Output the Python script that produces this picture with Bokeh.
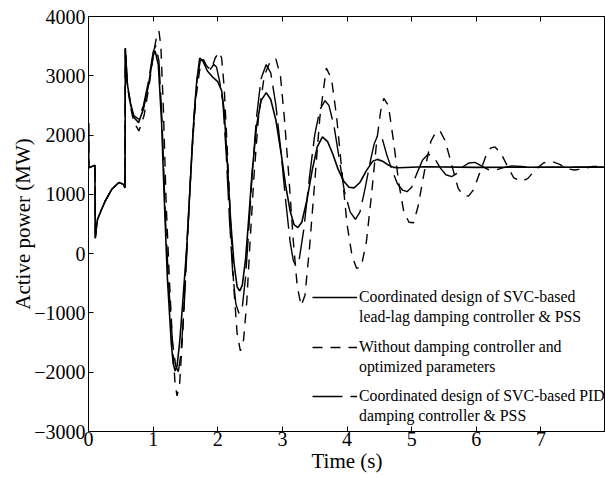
from bokeh.plotting import figure
from bokeh.models import Legend, LegendItem, LinearAxis, FixedTicker, Range1d
from bokeh.embed import file_html
from bokeh.resources import INLINE

# ---- data ----
t_start = [0.0, 0.005, 0.1, 0.105, 0.12, 0.14, 0.2, 0.26, 0.36, 0.47, 0.54, 0.565]
v_start = [2200, 1450, 1490, 260, 420, 580, 740, 890, 1085, 1200, 1170, 1110]

t_leadlag = [0.57, 0.6, 0.65, 0.7, 0.775, 0.85, 0.93, 1.0, 1.03, 1.08, 1.13, 1.17, 1.22, 1.28,
             1.31, 1.34, 1.37, 1.41, 1.46, 1.52, 1.57, 1.62, 1.67, 1.72, 1.77, 1.84, 1.92, 2.0,
             2.06, 2.1, 2.15, 2.2, 2.25, 2.3, 2.34, 2.38, 2.43, 2.48, 2.53, 2.6, 2.67, 2.75,
             2.82, 2.9, 2.98, 3.05, 3.12, 3.18, 3.24, 3.3, 3.38, 3.46, 3.54, 3.62, 3.7, 3.78,
             3.86, 3.95, 4.03, 4.11, 4.2, 4.3, 4.4, 4.47, 4.55, 4.63, 4.72, 4.8, 5.2, 6.0, 8.0]
v_leadlag = [3470, 2870, 2520, 2300, 2210, 2440, 2850, 3340, 3420, 3190, 2240, 1000, -400, -1500,
             -1850, -1980, -1900, -1500, -800, 100, 1100, 2100, 2850, 3300, 3250, 3080, 2980, 2900,
             2750, 2400, 1500, 550, -150, -560, -630, -530, -100, 600, 1350, 2150, 2580, 2715,
             2600, 2250, 1700, 1150, 720, 490, 440, 530, 900, 1400, 1800, 1970, 1890, 1680,
             1430, 1220, 1120, 1110, 1200, 1400, 1560, 1590, 1560, 1500, 1455, 1450, 1465, 1455, 1460]

t_without = [0.57, 0.6, 0.65, 0.7, 0.78, 0.86, 0.94, 1.01, 1.06, 1.09, 1.12, 1.16, 1.2, 1.25,
             1.3, 1.34, 1.37, 1.41, 1.46, 1.51, 1.56, 1.6, 1.66, 1.72, 1.78, 1.84, 1.9, 1.96,
             2.02, 2.06, 2.1, 2.15, 2.2, 2.25, 2.3, 2.35, 2.4, 2.45, 2.5, 2.56, 2.63, 2.72,
             2.82, 2.9, 2.97, 3.03, 3.1, 3.17, 3.23, 3.29, 3.35, 3.42, 3.5, 3.58, 3.68, 3.76,
             3.84, 3.92, 4.0, 4.08, 4.15, 4.22, 4.3, 4.38, 4.46, 4.52, 4.57, 4.64, 4.72, 4.8,
             4.88, 4.96, 5.03, 5.1, 5.2, 5.3, 5.38, 5.44, 5.52, 5.62, 5.72, 5.8, 5.88, 5.96,
             6.05, 6.15, 6.22, 6.29, 6.38, 6.48, 6.58, 6.7, 6.8, 6.92, 7.04, 7.16, 7.3, 7.42,
             7.52, 7.65, 7.8, 8.0]
v_without = [3470, 2850, 2480, 2220, 2070, 2330, 2850, 3400, 3700, 3755, 3500, 2400, 900, -400,
             -1500, -2200, -2400, -2200, -1300, -100, 900, 1700, 2600, 3100, 3250, 3150, 3100, 3300,
             3400, 3300, 2800, 1700, 500, -600, -1350, -1640, -1450, -800, 200, 1300, 2300, 3000,
             3260, 3280, 3000, 2300, 1300, 200, -550, -880, -700, 100, 1200, 2300, 3130, 2950,
             2300, 1400, 500, -50, -250, -220, 200, 1000, 1900, 2400, 2620, 2500, 1900, 1200,
             700, 530, 520, 800, 1400, 1900, 2060, 2070, 1900, 1500, 1100, 980, 970, 1080,
             1350, 1650, 1780, 1800, 1700, 1480, 1280, 1215, 1270, 1420, 1530, 1560, 1500, 1430,
             1410, 1430, 1470, 1470]

t_pid = [0.57, 0.6, 0.65, 0.7, 0.775, 0.85, 0.93, 1.0, 1.04, 1.09, 1.14, 1.19, 1.24, 1.3,
         1.35, 1.39, 1.43, 1.48, 1.53, 1.58, 1.63, 1.68, 1.73, 1.78, 1.84, 1.88, 1.94, 1.98,
         2.03, 2.08, 2.13, 2.18, 2.23, 2.28, 2.33, 2.38, 2.43, 2.48, 2.53, 2.6, 2.67, 2.75,
         2.82, 2.9, 2.98, 3.05, 3.12, 3.17, 3.21, 3.26, 3.33, 3.42, 3.5, 3.58, 3.66, 3.72,
         3.8, 3.88, 3.96, 4.05, 4.13, 4.2, 4.28, 4.36, 4.42, 4.48, 4.55, 4.62, 4.7, 4.78,
         4.86, 4.93, 5.0, 5.08, 5.17, 5.26, 5.35, 5.44, 5.53, 5.62, 5.71, 5.8, 5.89, 5.98,
         6.08, 6.18, 6.3, 6.42, 6.55, 6.7, 6.9, 8.0]
v_pid = [3470, 2880, 2540, 2330, 2270, 2500, 2920, 3400, 3510, 3250, 2200, 600, -500, -1500,
         -1900, -1990, -1700, -900, 200, 1300, 2300, 2950, 3250, 3270, 3130, 3100, 3190, 3150,
         2900, 2550, 1700, 600, -300, -850, -1010, -900, -400, 400, 1300, 2300, 2950, 3190,
         3050, 2500, 1700, 900, 200, -120, -210, -100, 400, 1300, 2000, 2430, 2580, 2500,
         2150, 1600, 1050, 700, 580, 700, 1100, 1550, 1850, 2010, 1920, 1650, 1400, 1180,
         1070, 1045, 1120, 1350, 1580, 1680, 1620, 1450, 1330, 1300, 1360, 1470, 1530, 1540,
         1480, 1420, 1410, 1450, 1480, 1470, 1455, 1460]

x_ticks = [0, 1, 2, 3, 4, 5, 6, 7]
y_ticks = [-3000, -2000, -1000, 0, 1000, 2000, 3000, 4000]

label_leadlag = ["Coordinated design of SVC-based", "lead-lag damping controller & PSS"]
label_without = ["Without damping controller and", "optimized parameters"]
label_pid = ["Coordinated design of SVC-based PID", "damping controller & PSS"]

FONT = "Liberation Serif"

p = figure(width=605, height=477, output_backend="svg", toolbar_location=None,
           x_range=Range1d(0, 8), y_range=Range1d(-3000, 4000),
           min_border_left=88, min_border_top=16, min_border_bottom=46, min_border_right=0)

p.background_fill_color = "white"
p.border_fill_color = "white"
p.outline_line_color = "black"
p.outline_line_width = 1
p.xgrid.visible = False
p.ygrid.visible = False

r1 = p.line(t_start + t_leadlag, v_start + v_leadlag, line_color="black", line_width=1.6)
r2 = p.line(t_start + t_without, v_start + v_without, line_color="black", line_width=1.4,
            line_dash="10 8")
r3 = p.line(t_start + t_pid, v_start + v_pid, line_color="black", line_width=1.4,
            line_dash="30 8")
# invisible renderer used for the second text line of each legend entry
r_blank = p.line([], [], line_alpha=0)

for ax in (p.xaxis[0], p.yaxis[0]):
    ax.major_label_text_font = FONT
    ax.major_label_text_font_size = "20px"
    ax.axis_label_text_font = FONT
    ax.axis_label_text_font_size = "21px"
    ax.axis_label_text_font_style = "normal"
    ax.major_tick_in = 5
    ax.major_tick_out = 0
    ax.minor_tick_in = 0
    ax.minor_tick_out = 0
    ax.axis_line_color = "black"
    ax.major_label_text_color = "black"
    ax.axis_label_text_color = "black"

p.xaxis[0].ticker = FixedTicker(ticks=x_ticks)
p.yaxis[0].ticker = FixedTicker(ticks=y_ticks)
p.xaxis[0].axis_label = "Time (s)"
p.yaxis[0].axis_label = "Active power (MW)"
p.xaxis[0].major_label_standoff = 0
p.xaxis[0].axis_label_standoff = 0
p.yaxis[0].major_label_standoff = 3
p.yaxis[0].axis_label_standoff = -4

top = LinearAxis(ticker=FixedTicker(ticks=x_ticks),
                 major_label_overrides={t: "" for t in x_ticks},
                 major_label_standoff=0, major_tick_in=5, major_tick_out=0,
                 minor_tick_in=0, minor_tick_out=0)
p.add_layout(top, "above")

entries = [(label_leadlag, r1, 104), (label_without, r2, 54), (label_pid, r3, 5)]
for lines, rend, ybottom in entries:
    lg = Legend(items=[LegendItem(label=lines[0], renderers=[rend]),
                       LegendItem(label=lines[1], renderers=[r_blank])],
                location=(224, ybottom), label_text_font=FONT, label_text_font_size="15.8px",
                glyph_width=45, glyph_height=20, label_height=20, label_standoff=2,
                spacing=0, padding=0, margin=0, border_line_alpha=0,
                background_fill_alpha=0, label_text_color="black")
    p.add_layout(lg, "center")

open("out.html", "w").write(file_html(p, INLINE))
